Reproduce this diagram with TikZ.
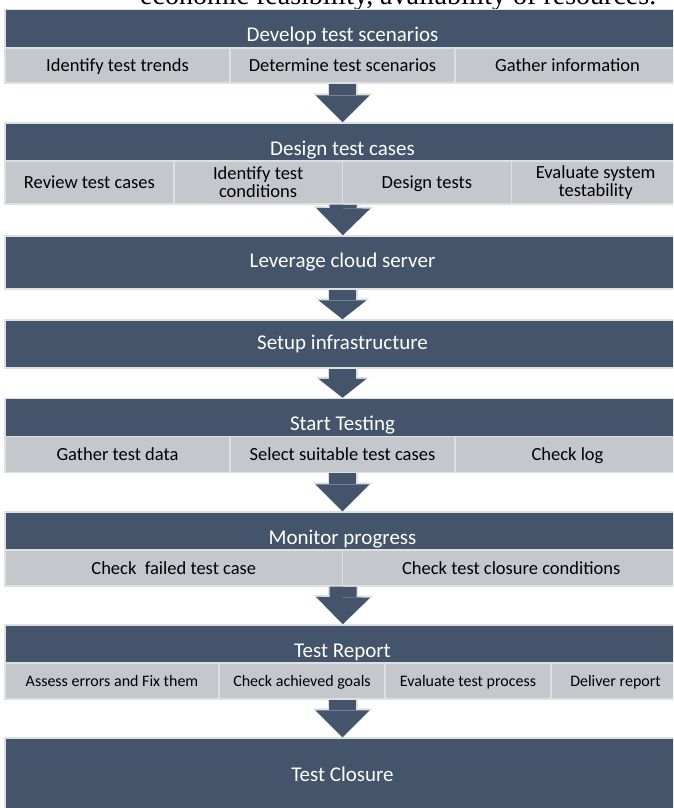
\documentclass[tikz,border=0pt]{standalone}
\usepackage{fontspec}
\setmainfont{Carlito}
\newfontfamily\bodyserif{Liberation Serif}
\usetikzlibrary{arrows.meta}
\definecolor{barblue}{RGB}{68,84,106}
\definecolor{cellgray}{RGB}{196,199,204}
\definecolor{rimgray}{RGB}{222,223,225}

\begin{document}
\begin{tikzpicture}[x=1pt, y=-1pt,
    bar/.style={rectangle, fill=barblue, draw=rimgray, line width=1.5pt,
        minimum width=675pt, inner sep=0pt, text=white,
        font=\fontsize{21}{25}\selectfont},
    head/.style={bar, minimum height=38pt, text height=32pt, text depth=6pt},
    cell/.style={rectangle, fill=cellgray, draw=rimgray, line width=1.5pt,
        inner sep=0pt, align=center, text=black,
        text height=16pt, text depth=4pt,
        font=\fontsize{18.5}{18}\selectfont},
    twoline/.style={text height=, text depth=},
    smallcell/.style={cell, minimum height=36pt, text height=14.5pt, text depth=3.5pt,
        font=\fontsize{16}{18}\selectfont},
    flow/.style={draw=barblue, line width=27pt,
        -{Triangle[width=54pt, length=27pt, line width=0pt]},
        preaction={draw=rimgray, line width=30pt,
            -{Triangle[width=60pt, length=29pt, line width=0pt]}}},
    shortflow/.style={draw=barblue, line width=27pt,
        -{Triangle[width=48pt, length=19pt, line width=0pt]},
        preaction={draw=rimgray, line width=30pt,
            -{Triangle[width=54pt, length=21pt, line width=0pt]}}}
]
    \useasboundingbox (0,0) rectangle (673,808);
    \clip (0,0) rectangle (673,808);
    \node[anchor=base west, inner sep=0pt,
        font=\bodyserif\fontsize{28}{30}\selectfont] (prev) at (140,4.5)
        {economic feasibility, availability of resources.};

    \node[head] (h1) at (342.5,28.5) {Develop test scenarios};
    \node[cell, minimum width=225pt, minimum height=35pt] (r1a) at (117.5,65.5) {Identify test trends};
    \node[cell, minimum width=225pt, minimum height=35pt] (r1b) at (342.5,65.5) {Determine test scenarios};
    \node[cell, minimum width=225pt, minimum height=35pt] (r1c) at (567.5,65.5) {Gather information};

    \node[head] (h2) at (342.5,142) {Design test cases};
    \node[cell, minimum width=168.75pt, minimum height=43pt] (r2a) at (89.375,182.5) {Review test cases};
    \node[cell, twoline, minimum width=168.75pt, minimum height=43pt] (r2b) at (258.125,182.5) {Identify test\\conditions};
    \node[cell, minimum width=168.75pt, minimum height=43pt] (r2c) at (426.875,182.5) {Design tests};
    \node[cell, twoline, minimum width=168.75pt, minimum height=43pt] (r2d) at (595.625,182.5) {Evaluate system\\testability};

    \node[bar, minimum height=53pt] (b3) at (342.5,262.5) {Leverage cloud server};
    \node[bar, minimum height=48pt] (b4) at (342.5,344) {Setup infrastructure};

    \node[head] (h5) at (342.5,417.5) {Start Testing};
    \node[cell, minimum width=225pt, minimum height=36pt] (r5a) at (117.5,454.5) {Gather test data};
    \node[cell, minimum width=225pt, minimum height=36pt] (r5b) at (342.5,454.5) {Select suitable test cases};
    \node[cell, minimum width=225pt, minimum height=36pt] (r5c) at (567.5,454.5) {Check log};

    \node[head] (h6) at (342.5,531) {Monitor progress};
    \node[cell, minimum width=337.5pt, minimum height=36pt] (r6a) at (173.75,568) {Check\ \ failed test case};
    \node[cell, minimum width=337.5pt, minimum height=36pt] (r6b) at (511.25,568) {Check test closure conditions};

    \node[head] (h7) at (342.5,644) {Test Report};
    \node[smallcell, minimum width=214pt] (r7a) at (112,681) {Assess errors and Fix them};
    \node[smallcell, minimum width=166pt] (r7b) at (302,681) {Check achieved goals};
    \node[smallcell, minimum width=166pt] (r7c) at (468,681) {Evaluate test process};
    \node[smallcell, minimum width=129pt] (r7d) at (615.5,681) {Deliver report};

    \node[bar, minimum height=73pt] (b8) at (342.5,774.5) {Test Closure};

    \draw[flow] (r1b) -- (h2);
    \draw[flow] (r2b.south east) -- (b3);
    \draw[shortflow] (b3) -- (b4);
    \draw[shortflow] (b4) -- (h5);
    \draw[flow] (r5b) -- (h6);
    \draw[flow] (r6a.south east) -- (h7);
    \draw[flow] (h7.south |- r7b.south) -- (b8);
\end{tikzpicture}
\end{document}
